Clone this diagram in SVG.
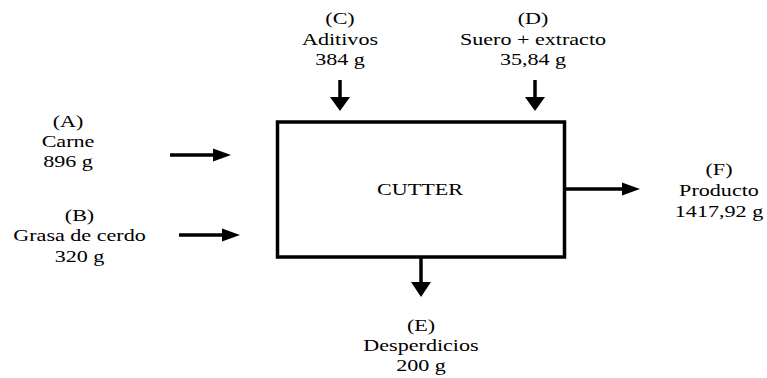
<svg xmlns="http://www.w3.org/2000/svg" width="767" height="378" viewBox="0 0 767 378">
  <style>
    .lbl { font-family: "Liberation Serif", "Times New Roman", serif; font-size: 17px; fill: #000; text-anchor: middle; }
    .shaft { stroke: #000; stroke-width: 3.5; fill: none; }
    .head { fill: #000; stroke: none; }
    .box { fill: #fff; stroke: #000; stroke-width: 3.5; }
  </style>
  <rect width="767" height="378" fill="#fff"/>

  <!-- process block -->
  <g id="cutter">
    <rect class="box" x="277.5" y="122" width="287" height="135"/>
    <g transform="translate(420,0) scale(1.3,1)"><text class="lbl" x="0" y="195">CUTTER</text></g>
  </g>

  <!-- input / output streams (labels drawn wide: x scaled 1.3) -->
  <g id="stream-a">
    <g transform="translate(68,0) scale(1.3,1)">
      <text class="lbl" x="0" y="127">(A)</text>
      <text class="lbl" x="0" y="147">Carne</text>
      <text class="lbl" x="0" y="167">896 g</text>
    </g>
  </g>
  <g id="stream-b">
    <g transform="translate(79.5,0) scale(1.3,1)">
      <text class="lbl" x="0" y="221">(B)</text>
      <text class="lbl" x="0" y="241">Grasa de cerdo</text>
      <text class="lbl" x="0" y="262">320 g</text>
    </g>
  </g>
  <g id="stream-c">
    <g transform="translate(340,0) scale(1.3,1)">
      <text class="lbl" x="0" y="24">(C)</text>
      <text class="lbl" x="0" y="45">Aditivos</text>
      <text class="lbl" x="0" y="65">384 g</text>
    </g>
  </g>
  <g id="stream-d">
    <g transform="translate(533,0) scale(1.3,1)">
      <text class="lbl" x="0" y="24">(D)</text>
      <text class="lbl" x="0" y="45">Suero + extracto</text>
      <text class="lbl" x="0" y="65">35,84 g</text>
    </g>
  </g>
  <g id="stream-f">
    <g transform="translate(719,0) scale(1.3,1)">
      <text class="lbl" x="0" y="175">(F)</text>
      <text class="lbl" x="0" y="196">Producto</text>
      <text class="lbl" x="0" y="217">1417,92 g</text>
    </g>
  </g>
  <g id="stream-e">
    <g transform="translate(421,0) scale(1.3,1)">
      <text class="lbl" x="0" y="331">(E)</text>
      <text class="lbl" x="0" y="351">Desperdicios</text>
      <text class="lbl" x="0" y="371">200 g</text>
    </g>
  </g>

  <!-- connectors -->
  <g id="connectors">
    <line class="shaft" x1="170" y1="155" x2="215" y2="155"/>
    <polygon class="head" points="213,148.5 231,155 213,161.5"/>

    <line class="shaft" x1="179" y1="235" x2="224" y2="235"/>
    <polygon class="head" points="222,228.5 240,235 222,241.5"/>

    <line class="shaft" x1="340" y1="80" x2="340" y2="99"/>
    <polygon class="head" points="330,97 350,97 340,111"/>

    <line class="shaft" x1="535" y1="80" x2="535" y2="99"/>
    <polygon class="head" points="525,97 545,97 535,111"/>

    <line class="shaft" x1="564" y1="189" x2="624" y2="189"/>
    <polygon class="head" points="622,182.5 640,189 622,195.5"/>

    <line class="shaft" x1="421" y1="257" x2="421" y2="284"/>
    <polygon class="head" points="411,282 431,282 421,297"/>
  </g>
</svg>
